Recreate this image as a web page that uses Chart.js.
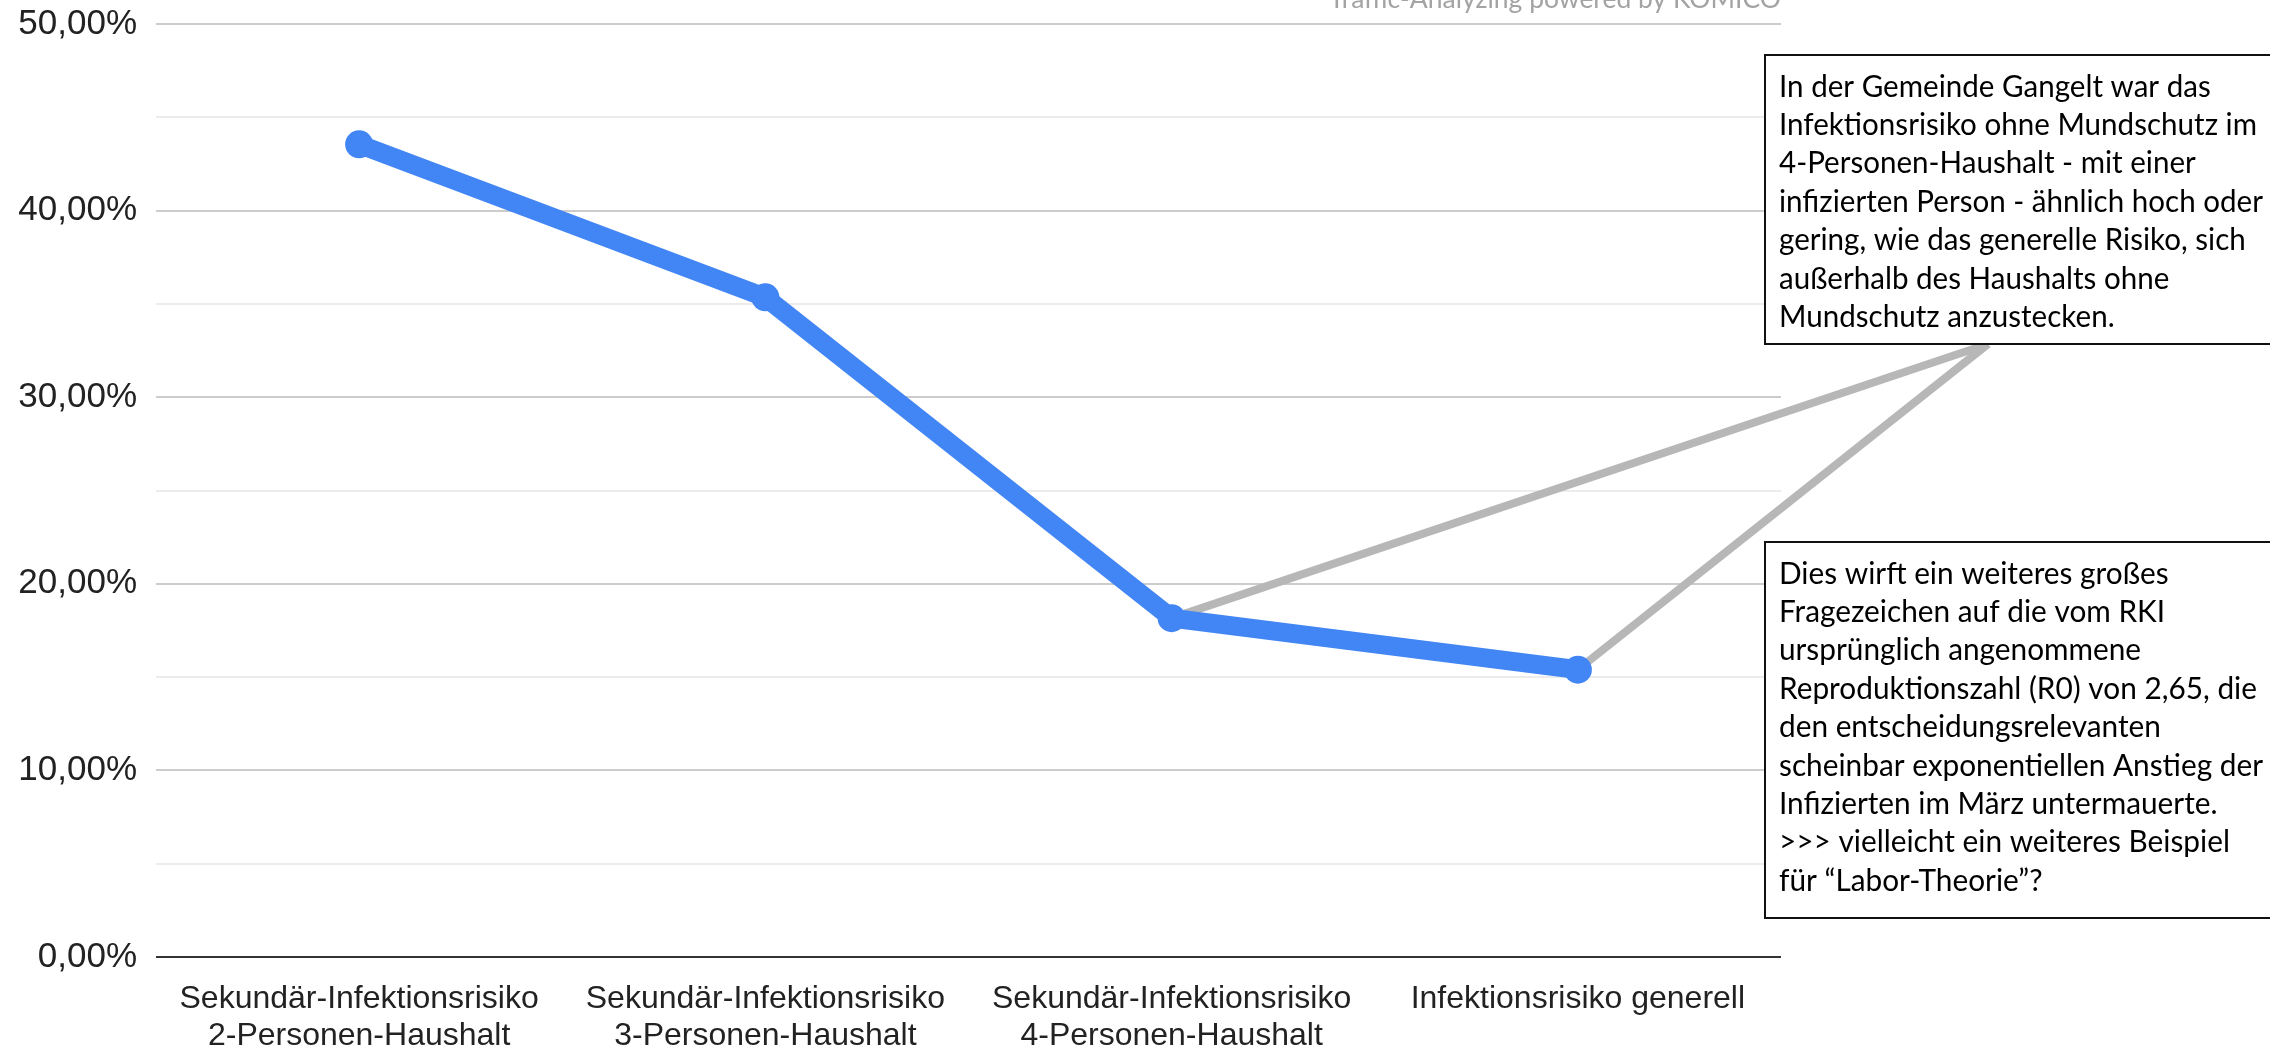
<!DOCTYPE html>
<html lang="de">
<head>
<meta charset="utf-8">
<title>Sekundär-Infektionsrisiko</title>
<script src="https://cdn.jsdelivr.net/npm/chart.js@4"></script>
<style>
  html, body { margin: 0; padding: 0; background: #fff; }
  #wrap { width: 2270px; height: 1045px; }
</style>
</head>
<body>
<div id="wrap"><canvas id="riskChart" width="2270" height="1045"></canvas></div>
<script>
// Kategorien (x-Achse) und Werte in Prozent
const categories = [
    ['Sekundär-Infektionsrisiko', '2-Personen-Haushalt'],
    ['Sekundär-Infektionsrisiko', '3-Personen-Haushalt'],
    ['Sekundär-Infektionsrisiko', '4-Personen-Haushalt'],
    'Infektionsrisiko generell'
];
const riskValues = [43.55, 35.35, 18.16, 15.4];

// y-Achse: 0 bis 50 %, beschriftet alle 10 %
const yMin = 0;
const yMax = 50;
const yStep = 5;

const watermark = 'Traffic-Analyzing powered by KOMICO';

const noteTop = [
    'In der Gemeinde Gangelt war das',
    'Infektionsrisiko ohne Mundschutz im',
    '4-Personen-Haushalt - mit einer',
    'infizierten Person - ähnlich hoch oder',
    'gering, wie das generelle Risiko, sich',
    'außerhalb des Haushalts ohne',
    'Mundschutz anzustecken.'
];
const noteBottom = [
    'Dies wirft ein weiteres großes',
    'Fragezeichen auf die vom RKI',
    'ursprünglich angenommene',
    'Reproduktionszahl (R0) von 2,65, die',
    'den entscheidungsrelevanten',
    'scheinbar exponentiellen Anstieg der',
    'Infizierten im März untermauerte.',
    '>>> vielleicht ein weiteres Beispiel',
    'für “Labor-Theorie”?'
];

const blue = '#4285f4';
const connectorGray = '#b7b7b7';
const noteFont = 'Lato, "Open Sans", sans-serif';

function formatPercent(v) {
    return v.toFixed(2).replace('.', ',') + '%';
}

// Textkasten mit Rahmen, Text linksbündig; longest = Zeile, die die Breite vorgibt
function drawNote(ctx, lines, longest, top, bottom) {
    const left = 1765;
    const right = 2275;
    const lineGap = 38.4;
    const textX = 1779;
    const targetWidth = 484;

    ctx.save();
    ctx.fillStyle = '#ffffff';
    ctx.fillRect(left, top, right - left, bottom - top);
    ctx.strokeStyle = '#111111';
    ctx.lineWidth = 2;
    ctx.strokeRect(left, top, right - left, bottom - top);

    ctx.font = '30px ' + noteFont;
    ctx.fillStyle = '#000000';
    ctx.textBaseline = 'middle';
    ctx.textAlign = 'left';
    const squeeze = targetWidth / ctx.measureText(longest).width;
    const firstY = top + 32;
    lines.forEach((line, i) => {
        ctx.save();
        ctx.translate(textX, firstY + i * lineGap);
        ctx.scale(squeeze, 1);
        ctx.fillText(line, 0, 0);
        ctx.restore();
    });
    ctx.restore();
}

// graue Verbindungslinien von den Punkten zum oberen Kasten
const connectorPlugin = {
    id: 'connectors',
    beforeDatasetsDraw(chart) {
        const ctx = chart.ctx;
        const pts = chart.getDatasetMeta(0).data;
        const tipX = 1988;
        const tipY = 344;
        ctx.save();
        ctx.strokeStyle = connectorGray;
        ctx.lineWidth = 8;
        [2, 3].forEach(i => {
            ctx.beginPath();
            ctx.moveTo(pts[i].x, pts[i].y);
            ctx.lineTo(tipX, tipY);
            ctx.stroke();
        });
        ctx.restore();
    }
};

const notesPlugin = {
    id: 'notes',
    afterDraw(chart) {
        const ctx = chart.ctx;
        drawNote(ctx, noteTop, noteTop[3], 55, 344);
        drawNote(ctx, noteBottom, noteBottom[5], 542, 918);

        // Wasserzeichen oben rechts, oben abgeschnitten
        ctx.save();
        ctx.font = '26px ' + noteFont;
        ctx.fillStyle = '#a3a3a3';
        ctx.textAlign = 'right';
        ctx.textBaseline = 'alphabetic';
        const sx = 452 / ctx.measureText(watermark).width;
        ctx.translate(chart.chartArea.right, 8);
        ctx.scale(sx, 1);
        ctx.fillText(watermark, 0, 0);
        ctx.restore();
    }
};

new Chart(document.getElementById('riskChart'), {
    type: 'line',
    data: {
        labels: categories,
        datasets: [{
            label: 'Infektionsrisiko',
            data: riskValues,
            borderColor: blue,
            backgroundColor: blue,
            borderWidth: 19,
            borderJoinStyle: 'round',
            pointRadius: 14,
            pointHoverRadius: 14,
            pointBackgroundColor: blue,
            pointBorderWidth: 0,
            tension: 0,
            fill: false
        }]
    },
    options: {
        responsive: false,
        devicePixelRatio: 1,
        animation: false,
        layout: {
            autoPadding: false,
            padding: { left: 0, right: 489, top: 24, bottom: 0 }
        },
        plugins: {
            legend: { display: false },
            tooltip: { enabled: false }
        },
        scales: {
            x: {
                offset: true,
                grid: { display: false, drawTicks: false },
                border: { display: false },
                ticks: {
                    padding: 24,
                    maxRotation: 0,
                    autoSkip: false,
                    color: '#222222',
                    font: { family: '"Liberation Sans", Arial, sans-serif', size: 32, lineHeight: 1.15 }
                },
                afterFit(scale) { scale.height = 88; }
            },
            y: {
                min: yMin,
                max: yMax,
                border: { display: false },
                grid: {
                    drawTicks: false,
                    lineWidth: 2,
                    color: ctx => {
                        const v = ctx.tick.value;
                        if (v === 0) return '#333333';
                        return v % 10 === 0 ? '#cccccc' : '#ececec';
                    }
                },
                ticks: {
                    stepSize: yStep,
                    padding: 19,
                    color: '#222222',
                    font: { family: '"Liberation Sans", Arial, sans-serif', size: 35 },
                    callback: v => (v % 10 === 0 ? formatPercent(v) : '')
                },
                afterFit(scale) {
                    scale.width = 156;
                    // Beschriftung darf über den Plotbereich hinausragen
                    scale.paddingTop = 0;
                    scale.paddingBottom = 0;
                }
            }
        }
    },
    plugins: [connectorPlugin, notesPlugin]
});
</script>
</body>
</html>
